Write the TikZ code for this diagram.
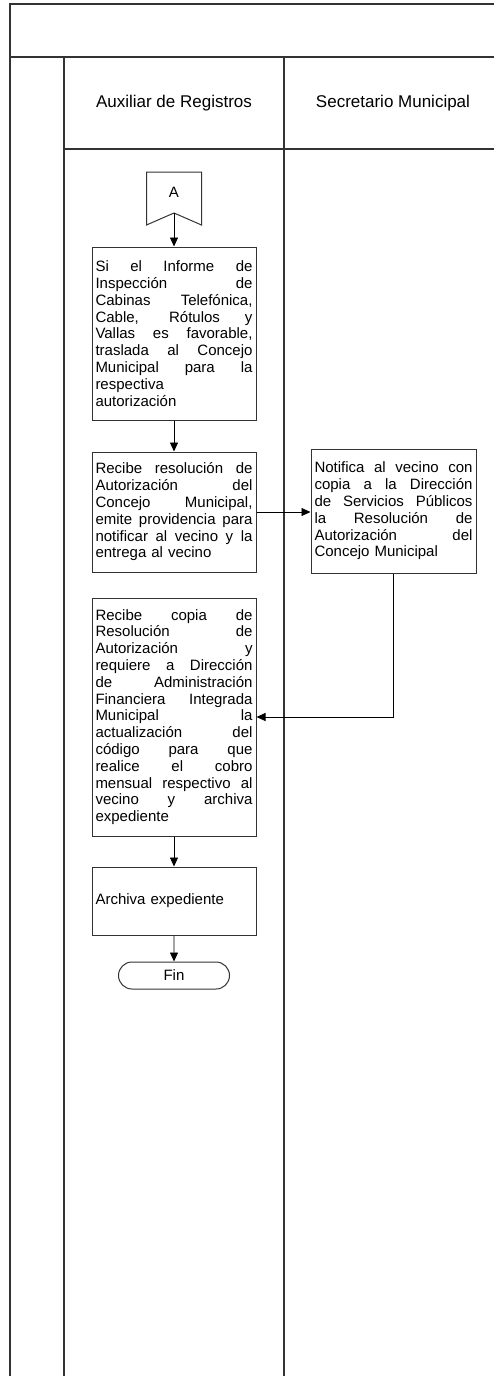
\documentclass[tikz,border=0pt]{standalone}
\usepackage{fontspec}
\setmainfont{Liberation Sans}
\usepackage{tikz}
\usetikzlibrary{arrows.meta,positioning,calc,shapes.misc}

% one justified line of a box text
\newcommand{\jl}[1]{\leavevmode\hbox to\hsize{\spaceskip=0.28em plus 1fil\relax #1}\\}

\begin{document}
\begin{tikzpicture}[
  x=1pt,y=-1pt,
  font=\fontsize{15pt}{16.8pt}\selectfont,
  lane/.style={draw=black!80,line width=1.4pt},
  lanehead/.style={font=\fontsize{17pt}{20pt}\selectfont},
  task/.style={draw=black!80,line width=1pt,inner sep=3.5pt,text width=157pt,align=left},
  term/.style={draw=black!80,line width=1pt,rounded rectangle,minimum width=111pt,minimum height=27pt,inner sep=0pt},
  flow/.style={draw=black,line width=0.8pt,-{Triangle[length=9pt,width=8pt]}}
]
\useasboundingbox (0,0) rectangle (494,1376);
\clip (0,0) rectangle (494,1376);

% swimlane frame
\draw[lane] (10,1380) -- (10,4) -- (500,4);
\draw[lane] (10,57) -- (500,57);
\draw[lane] (64,57) -- (64,1380);
\draw[lane] (284,57) -- (284,1380);
\draw[lane] (64,149) -- (500,149);

\node[lanehead] (hAux) at (174,103) {Auxiliar de Registros};
\node[lanehead] (hSec) at (393,103) {Secretario Municipal};

% connector A
\coordinate (conAtip) at (174,213);
\draw[draw=black!80,line width=1pt] (146.5,172) -- (201.5,172) -- (201.5,225) -- (conAtip) -- (146.5,225) -- cycle;
\node (conA) at (174,192) {A};

% tasks
\node[task,minimum height=173pt] (inform) at (174,333.5) {\jl{Si el Informe de}\jl{Inspección de}\jl{Cabinas Telefónica,}\jl{Cable, Rótulos y}\jl{Vallas es favorable,}\jl{traslada al Concejo}\jl{Municipal para la}respectiva\\autorización};

\node[task,minimum height=120pt] (resol) at (174,512) {\jl{Recibe resolución de}\jl{Autorización del}\jl{Concejo Municipal,}\jl{emite providencia para}\jl{notificar al vecino y la}entrega al vecino};

\node[task,text width=158pt,minimum height=124pt] (notif) at (393.5,511) {\jl{Notifica al vecino con}\jl{copia a la Dirección}\jl{de Servicios Públicos}\jl{la Resolución de}\jl{Autorización del}Concejo Municipal};

\node[task,minimum height=238pt] (copia) at (174,717) {\jl{Recibe copia de}\jl{Resolución de}\jl{Autorización y}\jl{requiere a Dirección}\jl{de Administración}\jl{Financiera Integrada}\jl{Municipal la}\jl{actualización del}\jl{código para que}\jl{realice el cobro}\jl{mensual respectivo al}\jl{vecino y archiva}expediente};

\node[task,minimum height=68pt] (archiva) at (174,901) {Archiva expediente};

\node[term] (fin) at (174,975.5) {Fin};

% flow
\draw[flow] (conAtip) -- (inform.north);
\draw[flow] (inform) -- (resol);
\draw[flow] (resol.east) -- (resol.east -| notif.west);
\draw[flow] (notif.south) |- (copia.east);
\draw[flow] (copia) -- (archiva);
\draw[flow] (archiva) -- (fin);
\end{tikzpicture}
\end{document}
